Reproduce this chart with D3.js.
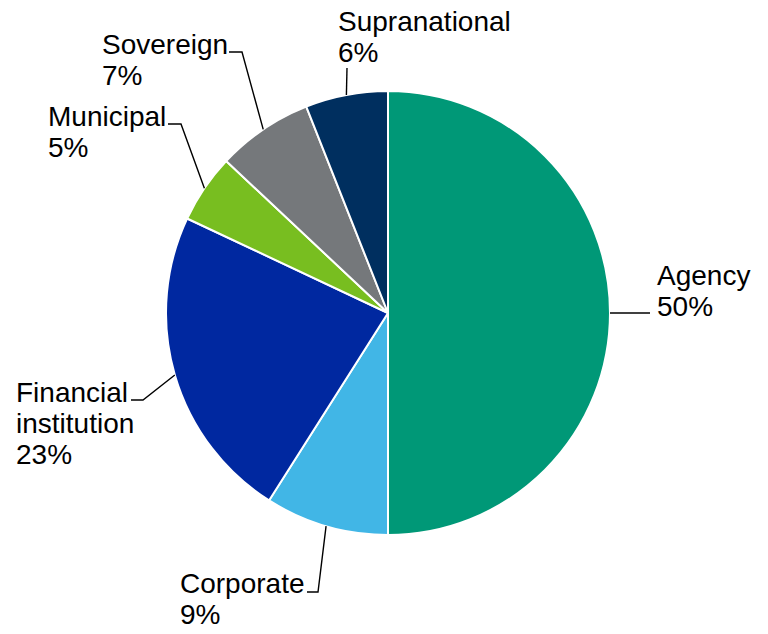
<!DOCTYPE html>
<html>
<head>
<meta charset="utf-8">
<script src="https://cdn.jsdelivr.net/npm/d3@7"></script>
<style>
  html, body { margin: 0; padding: 0; background: #fff; }
  svg { display: block; }
  text { font-family: "Liberation Sans", Arial, sans-serif; font-size: 28px; fill: #000; }
</style>
</head>
<body>
<svg id="chart" width="768" height="634"></svg>
<script>
// Portfolio breakdown by issuer type (%)
const categories = ["Agency", "Corporate", "Financial institution", "Municipal", "Sovereign", "Supranational"];
const shares = [50, 9, 23, 5, 7, 6];
const colors = ["#009877", "#41B6E6", "#0028A0", "#78BE20", "#75787B", "#002F5F"];

// Label text lines for each slice (name may wrap)
const labelLines = [
  ["Agency"],
  ["Corporate"],
  ["Financial", "institution"],
  ["Municipal"],
  ["Sovereign"],
  ["Supranational"]
];

// Label placement: text anchor (left, first baseline) and leader elbow
const labelLayout = [
  { tx: 657, ty: 285, elbow: null,        end: [650, 313] },
  { tx: 180, ty: 593, elbow: [318, 592],  end: [307, 592] },
  { tx: 16,  ty: 402, elbow: [143, 400],  end: [131, 400] },
  { tx: 48,  ty: 126, elbow: [181, 124],  end: [168, 124] },
  { tx: 102, ty: 54,  elbow: [242, 52],   end: [229, 52] },
  { tx: 338, ty: 31,  elbow: null,        end: [347, 68] }
];

const cx = 388, cy = 313, radius = 222;
const lineH = 31;

const svg = d3.select("#chart");
const g = svg.append("g").attr("transform", `translate(${cx},${cy})`);

const data = categories.map((c, i) => ({ name: c, value: shares[i], color: colors[i], i }));

const pie = d3.pie().value(d => d.value).sort(null);
const arc = d3.arc().innerRadius(0).outerRadius(radius);
const arcs = pie(data);

g.selectAll("path.slice")
  .data(arcs)
  .join("path")
  .attr("class", "slice")
  .attr("d", arc)
  .attr("fill", d => d.data.color)
  .attr("stroke", "#fff")
  .attr("stroke-width", 2)
  .attr("stroke-linejoin", "round");

// Leader lines from the middle of each slice's outer arc
const edge = d3.arc().innerRadius(radius).outerRadius(radius);
svg.selectAll("path.leader")
  .data(arcs)
  .join("path")
  .attr("class", "leader")
  .attr("fill", "none")
  .attr("stroke", "#000")
  .attr("stroke-width", 1.4)
  .attr("d", d => {
    const [ax, ay] = edge.centroid(d);
    const L = labelLayout[d.data.i];
    const pts = [[cx + ax, cy + ay]];
    if (L.elbow) pts.push(L.elbow);
    pts.push(L.end);
    return d3.line()(pts);
  });

// Labels: name lines followed by percentage
const labels = svg.selectAll("text.lbl")
  .data(arcs)
  .join("text")
  .attr("class", "lbl");

labels.each(function(d) {
  const L = labelLayout[d.data.i];
  const lines = labelLines[d.data.i].concat([d.data.value + "%"]);
  d3.select(this).selectAll("tspan")
    .data(lines)
    .join("tspan")
    .attr("x", L.tx)
    .attr("y", (t, k) => L.ty + k * lineH)
    .text(t => t);
});
</script>
</body>
</html>
